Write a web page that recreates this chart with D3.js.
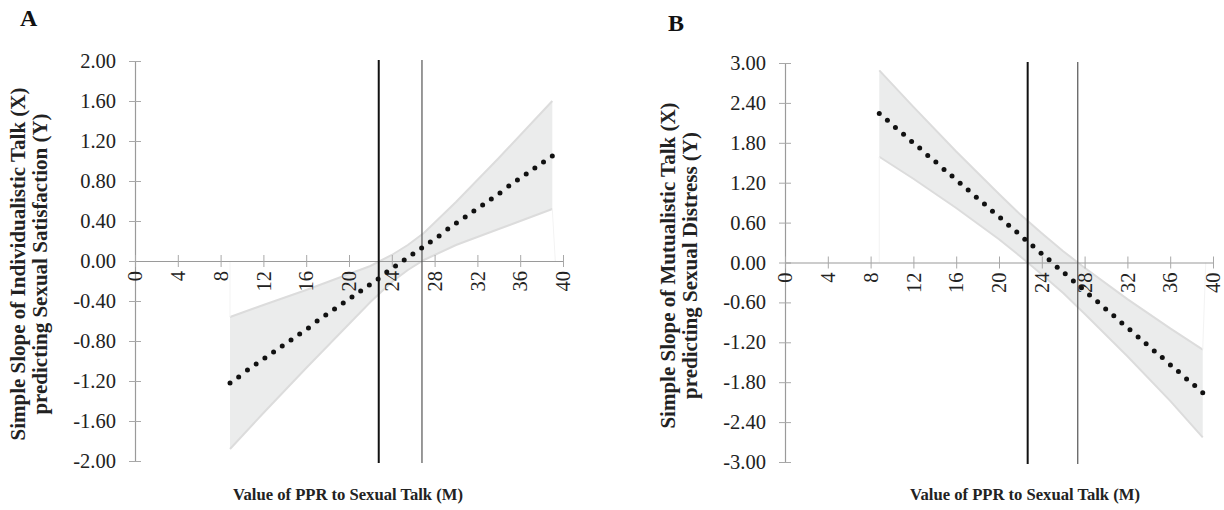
<!DOCTYPE html>
<html>
<head>
<meta charset="utf-8">
<script src="https://cdn.jsdelivr.net/npm/d3@7"></script>
<style>
  html, body { margin: 0; padding: 0; background: #fff; }
  svg { display: block; }
  text { font-family: "Liberation Serif", "Times New Roman", serif; }
</style>
</head>
<body>
<svg id="chart" width="1224" height="510"></svg>
<script>
// ---------- data ----------
const xTicks = [0, 4, 8, 12, 16, 20, 24, 28, 32, 36, 40];

// Panel A
const aYTicks = [2.0, 1.6, 1.2, 0.8, 0.4, 0.0, -0.4, -0.8, -1.2, -1.6, -2.0];
const aDotX = [8.88, 9.69, 10.51, 11.32, 12.14, 12.95, 13.76, 14.58, 15.39, 16.21,
               17.02, 17.83, 18.65, 19.46, 20.28, 21.09, 21.90, 22.72, 23.53, 24.35,
               25.16, 25.97, 26.79, 27.60, 28.42, 29.23, 30.04, 30.86, 31.67, 32.49,
               33.30, 34.11, 34.93, 35.74, 36.56, 37.37, 38.18, 39.00];
const aDotY = [-1.22, -1.16, -1.09, -1.03, -0.97, -0.91, -0.85, -0.79, -0.73, -0.67,
               -0.60, -0.54, -0.48, -0.42, -0.36, -0.30, -0.24, -0.18, -0.11, -0.05,
               0.01, 0.07, 0.13, 0.19, 0.25, 0.32, 0.38, 0.44, 0.50, 0.56,
               0.62, 0.68, 0.75, 0.81, 0.87, 0.93, 0.99, 1.05];
const aBandX  = [8.88, 12, 16, 20, 22, 24, 25.5, 27, 30, 34, 39.0];
const aBandLo = [-1.88, -1.52, -1.07, -0.63, -0.41, -0.21, -0.09, 0.01, 0.16, 0.32, 0.52];
const aBandHi = [-0.56, -0.44, -0.29, -0.13, -0.05, 0.06, 0.16, 0.28, 0.59, 1.03, 1.60];
const aCuts = [22.78, 26.82];

// Panel B
const bYTicks = [3.0, 2.4, 1.8, 1.2, 0.6, 0.0, -0.6, -1.2, -1.8, -2.4, -3.0];
const bDotX = [8.81, 9.57, 10.32, 11.08, 11.83, 12.59, 13.34, 14.10, 14.86, 15.61,
               16.37, 17.12, 17.88, 18.64, 19.39, 20.15, 20.90, 21.66, 22.41, 23.17,
               23.93, 24.68, 25.44, 26.19, 26.95, 27.71, 28.46, 29.22, 29.97, 30.73,
               31.48, 32.24, 33.00, 33.75, 34.51, 35.26, 36.02, 36.77, 37.53, 38.29, 39.04];
const bDotY = [2.24, 2.14, 2.03, 1.93, 1.82, 1.72, 1.61, 1.51, 1.40, 1.30,
               1.19, 1.09, 0.98, 0.88, 0.77, 0.67, 0.56, 0.46, 0.35, 0.25,
               0.14, 0.04, -0.07, -0.17, -0.28, -0.38, -0.49, -0.59, -0.70, -0.80,
               -0.91, -1.01, -1.12, -1.22, -1.33, -1.43, -1.54, -1.64, -1.75, -1.85, -1.96];
const bBandX  = [8.81, 12, 16, 20, 22, 24, 26, 28, 32, 36, 39.04];
const bBandLo = [1.59, 1.26, 0.82, 0.35, 0.09, -0.18, -0.46, -0.77, -1.41, -2.08, -2.63];
const bBandHi = [2.89, 2.34, 1.67, 1.03, 0.72, 0.44, 0.17, -0.08, -0.55, -0.99, -1.31];
const bCuts = [22.68, 27.36];

const xTitle = "Value of PPR to Sexual Talk (M)";

// ---------- drawing ----------
const FONT = '"Liberation Serif", "Times New Roman", serif';
const svg = d3.select("#chart");
svg.append("rect").attr("width", 1224).attr("height", 510).attr("fill", "#fff");

function panel(cfg) {
  const x = d3.scaleLinear().domain([0, 40]).range([cfg.x0, cfg.x1]);
  const y = d3.scaleLinear().domain(cfg.yDomain).range([cfg.y1, cfg.y0]);
  const g = svg.append("g");

  const band = cfg.bandX.map((v, i) => ({ x: v, lo: cfg.bandLo[i], hi: cfg.bandHi[i] }));
  // band fill
  g.append("path")
    .datum(band)
    .attr("d", d3.area().x(d => x(d.x)).y0(d => y(d.lo)).y1(d => y(d.hi)))
    .attr("fill", "#ebecec");
  // band edges
  ["lo", "hi"].forEach(k => {
    g.append("path")
      .datum(band)
      .attr("d", d3.line().x(d => x(d.x)).y(d => y(d[k])))
      .attr("fill", "none")
      .attr("stroke", "#dcdcdc")
      .attr("stroke-width", 2);
  });
  // faint end drops
  const first = band[0], last = band[band.length - 1];
  g.append("line")
    .attr("x1", x(first.x)).attr("x2", x(first.x))
    .attr("y1", y(0)).attr("y2", y(cfg.firstEdge === "hi" ? first.hi : first.lo))
    .attr("stroke", "#f3f3f3").attr("stroke-width", 1);
  g.append("line")
    .attr("x1", x(last.x) + 3).attr("x2", x(last.x))
    .attr("y1", y(0)).attr("y2", y(cfg.lastEdge === "hi" ? last.hi : last.lo))
    .attr("stroke", "#f3f3f3").attr("stroke-width", 1);

  // y axis
  const ya = g.append("g")
    .attr("transform", `translate(${x(0)},0)`)
    .call(d3.axisLeft(y).tickValues(cfg.yTicks).tickSizeInner(6).tickSizeOuter(0)
      .tickPadding(13).tickFormat(d => d.toFixed(2)));
  ya.select(".domain").attr("stroke", "#9a9a9a").attr("stroke-width", 1.2);
  ya.selectAll(".tick line").attr("x1", 6).attr("stroke", "#a8a8a8");
  ya.selectAll(".tick text").attr("font-size", 20.5).attr("fill", "#222")
    .attr("font-family", FONT);

  // x axis at y=0
  const xa = g.append("g")
    .attr("transform", `translate(0,${y(0)})`)
    .call(d3.axisBottom(x).tickValues(xTicks).tickSizeInner(6).tickSizeOuter(0)
      .tickFormat(d => String(d)));
  xa.select(".domain").attr("stroke", "#9a9a9a").attr("stroke-width", 1.2);
  xa.selectAll(".tick line").attr("y1", -6).attr("stroke", "#a8a8a8");
  xa.selectAll(".tick text")
    .attr("font-size", 20.5).attr("fill", "#222")
    .attr("font-family", FONT)
    .attr("transform", "rotate(-90)")
    .attr("text-anchor", "end")
    .attr("x", -10).attr("y", 0).attr("dy", "0.33em");

  // vertical cutoff lines
  g.append("line")
    .attr("x1", x(cfg.cuts[0])).attr("x2", x(cfg.cuts[0]))
    .attr("y1", cfg.y0 - 1).attr("y2", cfg.y1 + 2)
    .attr("stroke", "#111").attr("stroke-width", 2);
  g.append("line")
    .attr("x1", x(cfg.cuts[1])).attr("x2", x(cfg.cuts[1]))
    .attr("y1", cfg.y0 - 1).attr("y2", cfg.y1 + 2)
    .attr("stroke", "#555").attr("stroke-width", 1.2);

  // dots
  g.selectAll("circle.dot")
    .data(cfg.dotX.map((v, i) => ({ x: v, y: cfg.dotY[i] })))
    .join("circle")
    .attr("class", "dot")
    .attr("cx", d => x(d.x)).attr("cy", d => y(d.y))
    .attr("r", 2.5).attr("fill", "#111");

  // y title
  const yt = g.append("text")
    .attr("transform", `translate(${cfg.yTitleX},${y(0) + 3}) rotate(-90)`)
    .attr("text-anchor", "middle")
    .attr("font-family", FONT)
    .attr("font-size", 21).attr("font-weight", "bold").attr("fill", "#222");
  yt.append("tspan").attr("x", 0).attr("dy", 0).text(cfg.yTitle[0]);
  yt.append("tspan").attr("x", 0).attr("dy", 22).text(cfg.yTitle[1]);

  // x title
  g.append("text")
    .attr("x", cfg.xTitleX).attr("y", 500)
    .attr("text-anchor", "middle")
    .attr("font-family", FONT)
    .attr("font-size", 16.6).attr("font-weight", "bold").attr("fill", "#222")
    .text(xTitle);

  // panel letter
  g.append("text")
    .attr("x", cfg.letterX).attr("y", cfg.letterY)
    .attr("font-family", FONT)
    .attr("font-size", 24).attr("font-weight", "bold").attr("fill", "#111")
    .text(cfg.letter);
}

panel({
  x0: 135, x1: 563, y0: 61, y1: 461, yDomain: [-2, 2], yTicks: aYTicks,
  dotX: aDotX, dotY: aDotY, bandX: aBandX, bandLo: aBandLo, bandHi: aBandHi,
  firstEdge: "hi", lastEdge: "lo",
  cuts: aCuts,
  yTitle: ["Simple Slope of Individualistic Talk (X)", "predicting Sexual Satisfaction (Y)"],
  yTitleX: 25, xTitleX: 348, letter: "A", letterX: 20, letterY: 26
});

panel({
  x0: 785, x1: 1213, y0: 63, y1: 462, yDomain: [-3, 3], yTicks: bYTicks,
  dotX: bDotX, dotY: bDotY, bandX: bBandX, bandLo: bBandLo, bandHi: bBandHi,
  firstEdge: "lo", lastEdge: "hi",
  cuts: bCuts,
  yTitle: ["Simple Slope of Mutualistic Talk (X)", "predicting Sexual Distress (Y)"],
  yTitleX: 675, xTitleX: 1025, letter: "B", letterX: 668, letterY: 31
});
</script>
</body>
</html>
